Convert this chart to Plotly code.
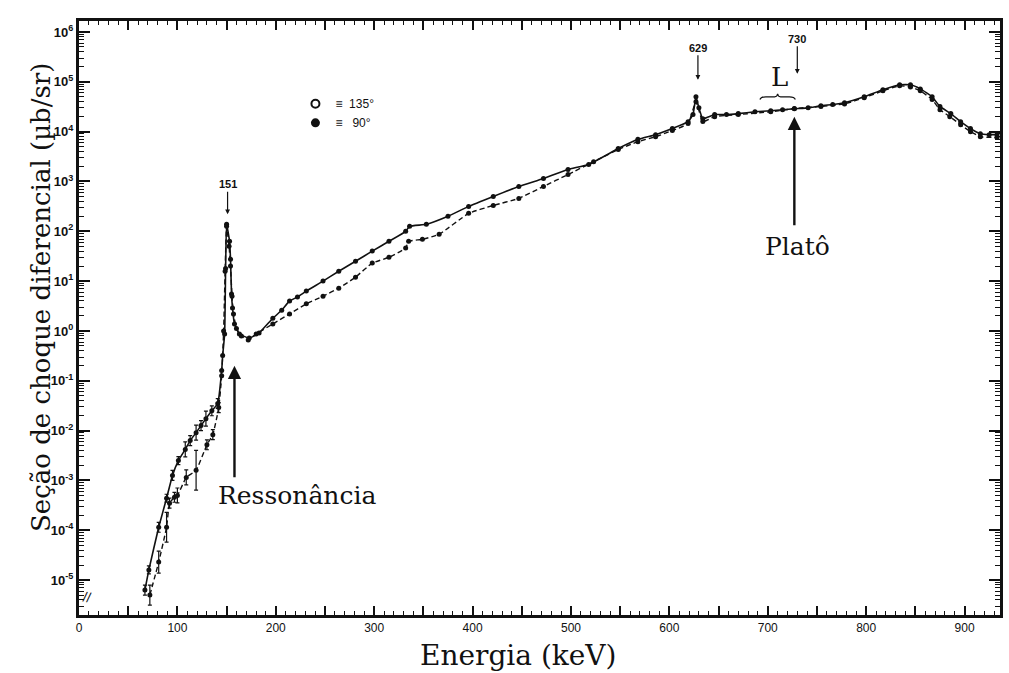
import plotly.graph_objects as go

# ---- data (energy in keV, cross section in microbarn/sr) ----
# series drawn with the solid line (135 deg)
e135 = [67, 71, 81, 89, 95, 101, 108, 113, 119, 124, 129, 135, 141, 145, 146, 148, 149, 150,
        153, 154, 155, 156, 158, 163, 173, 183, 197, 206, 214, 222, 231, 248, 264, 281, 298,
        315, 332, 336, 353, 375, 396, 421, 447, 472, 497, 518, 548, 568, 586, 603, 619, 624,
        627, 630, 634, 646, 658, 670, 687, 703, 715, 727, 741, 754, 766, 778, 798, 817, 834,
        845, 855, 867, 875, 886, 896, 906, 916, 925, 933]
s135 = [6.3e-6, 1.6e-5, 1.15e-4, 4.4e-4, 1.26e-3, 2.5e-3, 4.2e-3, 6.3e-3, 9.1e-3, 1.26e-2,
        1.74e-2, 2.5e-2, 3.5e-2, 0.16, 0.32, 0.87, 18, 138,
        63, 27.5, 5.5, 2.9, 1.38, 0.87, 0.72, 0.91, 1.8, 2.6, 4.0, 4.8, 6.3, 10, 15.8, 25, 40,
        63, 100, 126, 138, 200, 316, 500, 794, 1150, 1740, 2200, 4570, 7000, 8700, 1.15e4, 1.58e4, 2.2e4,
        5.0e4, 3.0e4, 1.82e4, 2.2e4, 2.2e4, 2.3e4, 2.5e4, 2.63e4, 2.75e4, 2.88e4, 3.0e4, 3.3e4, 3.5e4,
        3.8e4, 5.0e4, 6.9e4, 8.7e4, 8.7e4, 7.2e4, 5.0e4, 3.2e4, 2.3e4, 1.58e4, 1.15e4, 9.1e3, 8.7e3, 8.7e3]
err135 = [0.1, 0.08, 0.1, 0.08, 0.1, 0.08, 0.15, 0.1, 0.15, 0.1, 0.15, 0.1, 0.1, 0, 0, 0, 0, 0,
          0, 0, 0, 0, 0, 0, 0, 0, 0, 0, 0, 0, 0, 0, 0, 0, 0,
          0, 0, 0, 0, 0, 0, 0, 0, 0, 0, 0, 0, 0, 0, 0, 0, 0,
          0, 0, 0, 0, 0, 0, 0, 0, 0, 0, 0, 0, 0, 0, 0, 0, 0,
          0, 0, 0, 0, 0, 0, 0, 0, 0, 0]

# series drawn with the dashed line (90 deg)
e90 = [72, 81, 89, 92, 97, 100, 109, 119, 130, 136, 142, 145, 147, 148.5, 150, 152.5, 154,
       155.5, 157, 160, 165, 172, 180, 197, 214, 231, 248, 264, 281, 298, 315, 332, 335, 349,
       366, 396, 421, 447, 472, 497, 523, 548, 568, 586, 603, 619, 627, 634, 646, 670, 703,
       727, 754, 778, 798, 817, 834, 845, 855, 867, 875, 885, 896, 906, 916, 933]
s90 = [5.0e-6, 2.3e-5, 1.15e-4, 3.5e-4, 4.6e-4, 5.0e-4, 1.15e-3, 1.6e-3, 5.2e-3, 8.3e-3,
       2.9e-2, 0.126, 1.0, 15.8, 126, 50, 20, 5.0, 2.2, 1.12, 0.79, 0.66, 0.87, 1.38, 2.2,
       3.5, 5.0, 7.2, 12, 23, 30, 46, 63, 69, 87, 229, 330, 457, 794, 1380, 2500, 4370, 6300,
       7900, 1.05e4, 1.45e4, 4.0e4, 1.6e4, 2.0e4, 2.2e4, 2.5e4, 2.9e4, 3.2e4, 3.6e4, 4.8e4,
       6.6e4, 8.3e4, 7.9e4, 6.6e4, 4.4e4, 2.75e4, 2.0e4, 1.38e4, 1.0e4, 7.9e3, 7.6e3]
err90 = [0.2, 0.22, 0.3, 0.1, 0.1, 0.15, 0.15, 0.4, 0.1, 0.1, 0.1, 0, 0, 0, 0, 0, 0,
         0, 0, 0, 0, 0, 0, 0, 0, 0, 0, 0, 0, 0, 0, 0, 0, 0,
         0, 0, 0, 0, 0, 0, 0, 0, 0, 0, 0, 0, 0, 0, 0, 0, 0,
         0, 0, 0, 0, 0, 0, 0, 0, 0, 0, 0, 0, 0, 0, 0]

x_tick_vals = list(range(0, 951, 50))
x_tick_text = [str(v) if v % 100 == 0 else "" for v in x_tick_vals]
y_exponents = list(range(-5, 7))

INK = "#111111"


def err_arrays(vals, logerr):
    up = [v * (10 ** d - 1) for v, d in zip(vals, logerr)]
    dn = [v * (1 - 10 ** (-d)) for v, d in zip(vals, logerr)]
    return up, dn


fig = go.Figure()

up, dn = err_arrays(s135, err135)
fig.add_trace(go.Scatter(
    x=e135, y=s135, mode="lines+markers", showlegend=False,
    line=dict(color=INK, width=1.6, shape="spline", smoothing=0.4),
    marker=dict(symbol="circle", size=5, color=INK),
    error_y=dict(type="data", symmetric=False, array=up, arrayminus=dn,
                 color=INK, thickness=1.2, width=2)))

up, dn = err_arrays(s90, err90)
fig.add_trace(go.Scatter(
    x=e90, y=s90, mode="lines+markers", showlegend=False,
    line=dict(color=INK, width=1.4, dash="5px,3px", shape="spline", smoothing=0.4),
    marker=dict(symbol="circle", size=5, color=INK),
    error_y=dict(type="data", symmetric=False, array=up, arrayminus=dn,
                 color=INK, thickness=1.2, width=2)))

# legend entries
fig.add_trace(go.Scatter(x=[None], y=[None], mode="markers", name="\u2261  135\u00b0",
                         marker=dict(symbol="circle-open", size=8, color=INK, line=dict(width=2))))
fig.add_trace(go.Scatter(x=[None], y=[None], mode="markers", name="\u2261   90\u00b0",
                         marker=dict(symbol="circle", size=9, color=INK)))

serif = "DejaVu Serif"
sans = "Liberation Sans"

arrow_big = dict(showarrow=True, arrowhead=2, arrowsize=1.1, arrowwidth=2.4, arrowcolor=INK,
                 text="", xref="x", yref="y", axref="pixel", ayref="pixel")
arrow_small = dict(showarrow=True, arrowhead=2, arrowsize=0.8, arrowwidth=1.2, arrowcolor=INK,
                   xref="x", yref="y", font=dict(family=sans, size=11, color=INK))

annotations = [
    # axis titles
    dict(text="Energia (keV)", xref="paper", yref="paper", x=0.477, y=-0.068,
         showarrow=False, font=dict(family=serif, size=28, color=INK), yanchor="middle"),
    dict(text="Seção de choque diferencial (µb/sr)", xref="paper", yref="paper",
         x=-0.06, y=0.535, textangle=-90, showarrow=False,
         font=dict(family=serif, size=26, color=INK)),
    # peak labels
    dict(text="<b>151</b>", x=151, y=2.34, ax=0, ay=-30, **arrow_small),
    dict(text="<b>629</b>", x=629, y=5.04, ax=0, ay=-32, **arrow_small),
    dict(text="<b>730</b>", x=730, y=5.16, ax=0, ay=-35, **arrow_small),
    # big annotations
    dict(x=158, y=-0.7, ax=0, ay=113, **arrow_big),
    dict(text="Ressonância", x=222, y=-3.3, xref="x", yref="y", showarrow=False,
         font=dict(family=serif, size=25, color=INK)),
    dict(x=727, y=4.3, ax=0, ay=110, **arrow_big),
    dict(text="Platô", x=730, y=1.7, xref="x", yref="y", showarrow=False,
         font=dict(family=serif, size=25, color=INK)),
    dict(text="L", x=712, y=5.1, xref="x", yref="y", showarrow=False,
         font=dict(family=serif, size=26, color=INK)),
    # axis break mark
    dict(text="//", xref="paper", yref="paper", x=0.0, y=0.012, showarrow=False,
         font=dict(family=sans, size=14, color=INK), textangle=10),
]

# curly brace over region L (log axis shapes take linear values in paths)
b_lo, b_mid, b_hi = 4.4e4, 5.0e4, 5.75e4
shapes = [
    dict(type="path", xref="x", yref="y",
         path=(f"M 692,{b_lo} Q 693,{b_mid} 698,{b_mid} L 707,{b_mid} Q 709.5,{b_mid} 710,{b_hi} "
               f"Q 710.5,{b_mid} 713,{b_mid} L 722,{b_mid} Q 727,{b_mid} 728,{b_lo}"),
         line=dict(color=INK, width=1.2)),
]

minor_y = [m * 10 ** e for e in range(-6, 7) for m in range(2, 10)]

fig.update_layout(
    width=1009, height=673,
    margin=dict(l=79, r=6, t=21, b=58),
    paper_bgcolor="white", plot_bgcolor="white",
    font=dict(family=sans, color=INK),
    legend=dict(x=0.235, y=0.885, xanchor="left", yanchor="top",
                bgcolor="rgba(0,0,0,0)", font=dict(family=sans, size=12, color=INK),
                itemwidth=30, tracegroupgap=0),
    annotations=annotations, shapes=shapes,
    xaxis=dict(range=[0, 936], tickmode="array", tickvals=x_tick_vals, ticktext=x_tick_text,
               ticks="inside", ticklen=9, tickwidth=1.5, tickcolor=INK,
               showline=True, linewidth=2.5, linecolor=INK, mirror="ticks",
               showgrid=False, zeroline=False,
               tickfont=dict(family=sans, size=12, color=INK),
               minor=dict(dtick=10, ticks="inside", ticklen=4, tickwidth=1.2, tickcolor=INK,
                          showgrid=False)),
    yaxis=dict(type="log", range=[-5.7, 6.22], tickmode="array",
               tickvals=[10 ** e for e in y_exponents],
               ticktext=["<b>10<sup>%d</sup></b>" % e for e in y_exponents],
               ticks="inside", ticklen=11, tickwidth=1.8, tickcolor=INK,
               showline=True, linewidth=3, linecolor=INK, mirror="ticks",
               showgrid=False, zeroline=False,
               tickfont=dict(family=sans, size=13, color=INK),
               minor=dict(tickvals=minor_y, ticks="inside", ticklen=5, tickwidth=1.2,
                          tickcolor=INK, showgrid=False)),
)

fig.write_html("out.html")
